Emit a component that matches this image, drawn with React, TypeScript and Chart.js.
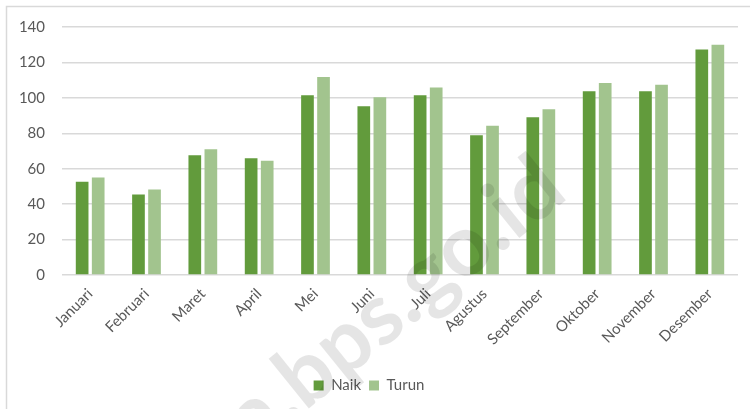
import React, { useEffect, useRef } from "react";
import { Chart, registerables } from "chart.js";

Chart.register(...registerables);

const months = [
  "Januari", "Februari", "Maret", "April", "Mei", "Juni",
  "Juli", "Agustus", "September", "Oktober", "November", "Desember",
];
const naik = [52.6, 45.4, 67.6, 65.9, 101.5, 95.3, 101.5, 78.9, 89.0, 103.8, 103.8, 127.3];
const turun = [55.0, 48.2, 71.0, 64.5, 111.8, 100.4, 105.9, 84.2, 93.6, 108.4, 107.4, 130.0];
const seriesNames = ["Naik", "Turun"];
const watermark = "ta.bps.go.id";

const FONT = "Lato, 'Open Sans', sans-serif";

const framePlugin = {
  id: "frame",
  beforeDraw(chart: any) {
    const ctx = chart.ctx;
    ctx.save();
    ctx.fillStyle = "#ffffff";
    ctx.fillRect(0, 0, chart.width, chart.height);
    ctx.strokeStyle = "#d9d9d9";
    ctx.lineWidth = 1.5;
    ctx.beginPath();
    ctx.moveTo(6.5, chart.height + 5);
    ctx.lineTo(6.5, 6.5);
    ctx.lineTo(chart.width + 5, 6.5);
    ctx.stroke();
    ctx.restore();
  },
};

const watermarkPlugin = {
  id: "watermark",
  afterDraw(chart: any) {
    const ctx = chart.ctx;
    ctx.save();
    ctx.translate(556, 180);
    ctx.rotate((-39 * Math.PI) / 180);
    ctx.font = "bold 86px Lato, sans-serif";
    ctx.fillStyle = "rgba(0,0,0,0.1)";
    ctx.textAlign = "right";
    ctx.textBaseline = "alphabetic";
    ctx.fillText(watermark, 0, 22);
    ctx.restore();
  },
};

export default function App() {
  const ref = useRef<HTMLCanvasElement | null>(null);
  useEffect(() => {
    if (!ref.current) return;
    const chart = new Chart(ref.current, {
      type: "bar",
      data: {
        labels: months,
        datasets: [
          {
            label: seriesNames[0],
            data: naik,
            backgroundColor: "#629b3c",
            categoryPercentage: 0.57,
            barPercentage: 0.79,
          },
          {
            label: seriesNames[1],
            data: turun,
            backgroundColor: "#a2c48e",
            categoryPercentage: 0.57,
            barPercentage: 0.79,
          },
        ],
      },
      options: {
        responsive: false,
        animation: false,
        layout: { padding: { top: 27, right: 12, left: 0, bottom: 6 } },
        plugins: {
          legend: {
            position: "bottom",
            labels: {
              boxWidth: 10,
              boxHeight: 10,
              padding: 8,
              color: "#595959",
              font: { family: FONT, size: 15 },
            },
          },
          tooltip: { enabled: false },
        },
        scales: {
          x: {
            grid: { display: false, drawTicks: false },
            border: { display: false },
            ticks: {
              color: "#595959",
              font: { family: FONT, size: 15 },
              minRotation: 45,
              maxRotation: 45,
              padding: 10,
            },
            afterFit(scale: any) {
              scale.height = 95;
            },
          },
          y: {
            min: 0,
            max: 140,
            grid: { color: "#d9d9d9", lineWidth: 1.5, drawTicks: false },
            border: { display: false },
            ticks: {
              stepSize: 20,
              color: "#595959",
              font: { family: FONT, size: 15 },
              padding: 17,
            },
            afterFit(scale: any) {
              scale.width = 62;
            },
          },
        },
      },
      plugins: [framePlugin, watermarkPlugin],
    });
    return () => chart.destroy();
  }, []);
  return (
    <div style={{ position: "fixed", left: 0, top: 0, width: 750, height: 409 }}>
      <canvas ref={ref} width={750} height={409} style={{ display: "block" }} />
    </div>
  );
}
